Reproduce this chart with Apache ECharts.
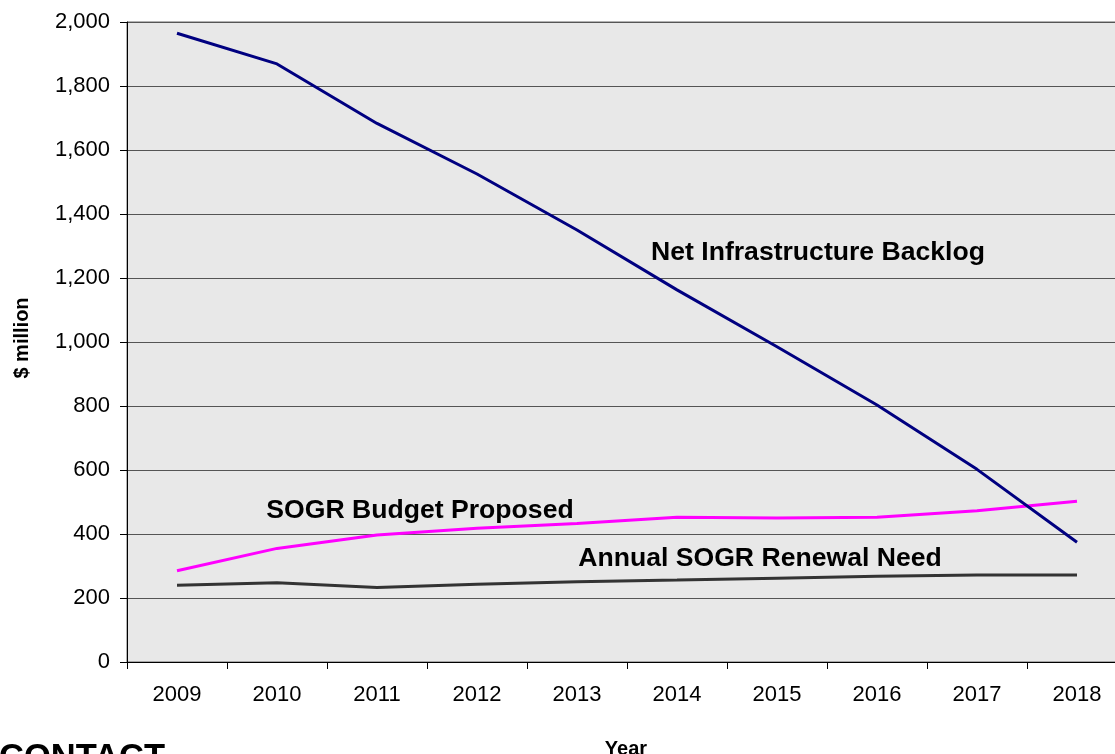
<!DOCTYPE html>
<html>
<head>
<meta charset="utf-8">
<script src="https://cdn.jsdelivr.net/npm/echarts@6/dist/echarts.min.js"></script>
<style>
html,body{margin:0;padding:0;background:#fff;overflow:hidden;width:1115px;height:754px;}
#c{width:1140px;height:754px;}
</style>
</head>
<body>
<div id="c"></div>
<script>
var categories = ['2009','2010','2011','2012','2013','2014','2015','2016','2017','2018'];
var backlog = [1965, 1869, 1683, 1525, 1350, 1163, 985, 803, 602, 374];
var budget  = [285, 355, 397, 418, 433, 452, 450, 452, 473, 502];
var need    = [240, 248, 233, 243, 251, 256, 262, 268, 272, 272];

var FONT = '"Liberation Sans", Arial, sans-serif';
var chart = echarts.init(document.getElementById('c'), null, {renderer:'canvas'});

function txt(text, x, y, size, align, rot) {
  return {
    type: 'text', x: x, y: y, rotation: rot || 0, z: 100,
    style: {
      text: text, font: 'bold ' + size + 'px ' + FONT, fill: '#000',
      align: align, textAlign: align, verticalAlign: 'middle', textVerticalAlign: 'middle'
    }
  };
}

chart.setOption({
  animation: false,
  backgroundColor: '#ffffff',
  grid: {
    left: 127, top: 22, width: 1000, height: 640,
    show: true, backgroundColor: '#e8e8e8', borderColor: '#666', borderWidth: 1
  },
  xAxis: {
    type: 'category', data: categories, boundaryGap: true,
    axisLine: {show: true, lineStyle: {color: '#000', width: 1}},
    axisTick: {show: true, interval: 0, length: 7, lineStyle: {color: '#000'}},
    axisLabel: {color: '#000', fontSize: 22, fontFamily: FONT, margin: 22, interval: 0},
    splitLine: {show: false}
  },
  yAxis: {
    type: 'value', min: 0, max: 2000, interval: 200,
    axisLine: {show: true, lineStyle: {color: '#000', width: 1}},
    axisTick: {show: true, length: 7, lineStyle: {color: '#000'}},
    axisLabel: {
      color: '#000', fontSize: 22, fontFamily: FONT, margin: 17,
      formatter: function (v) { return v.toString().replace(/\B(?=(\d{3})+(?!\d))/g, ','); }
    },
    splitLine: {show: true, lineStyle: {color: '#555', width: 1}}
  },
  series: [
    {name: 'Net Infrastructure Backlog', type: 'line', data: backlog, symbol: 'none',
     lineStyle: {color: '#000080', width: 3}, z: 5},
    {name: 'SOGR Budget Proposed', type: 'line', data: budget, symbol: 'none',
     lineStyle: {color: '#ff00ff', width: 3}, z: 4},
    {name: 'Annual SOGR Renewal Need', type: 'line', data: need, symbol: 'none',
     lineStyle: {color: '#333333', width: 3}, z: 3}
  ],
  graphic: [
    txt('Net Infrastructure Backlog', 818, 253, 26.6, 'center'),
    txt('SOGR Budget Proposed', 420, 511, 26.6, 'center'),
    txt('Annual SOGR Renewal Need', 760, 559, 26.6, 'center'),
    txt('$ million', 22, 338, 20, 'center', Math.PI / 2),
    txt('Year', 626, 749, 20, 'center'),
    txt('CONTACT', -1, 758, 34.5, 'left')
  ]
});
</script>
</body>
</html>
